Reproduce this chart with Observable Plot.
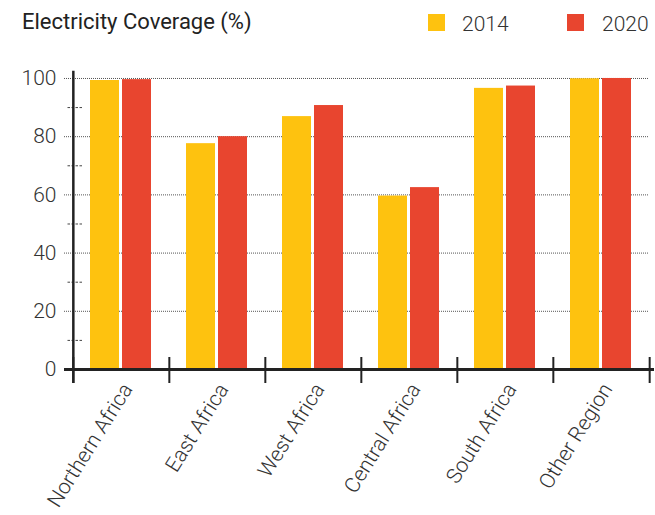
<!DOCTYPE html>
<html><head><meta charset="utf-8">
<script src="https://cdn.jsdelivr.net/npm/d3@7"></script>
<script src="https://cdn.jsdelivr.net/npm/@observablehq/plot@0.6"></script>
<style>
body{margin:0;background:#fff;font-family:Roboto,sans-serif;color:#333;}
#wrap{position:relative;width:655px;}
#head{position:relative;height:50px;}
#title{position:absolute;left:22px;top:12px;font-size:22px;line-height:20px;color:#222;white-space:nowrap;}
.lg{position:absolute;top:14px;width:17px;height:17px;}
.lt{position:absolute;top:14px;font-size:21px;line-height:20px;font-weight:300;color:#333;}
#chart svg{display:block;}
</style></head><body>
<div id="wrap"><div id="head">
<div id="title">Electricity Coverage (%)</div>
<div id="legend"></div>
</div><div id="chart"></div></div>
<script>
const regions = ["Northern Africa","East Africa","West Africa","Central Africa","South Africa","Other Region"];
const years = ["2014","2020"];
const values2014 = [99.3, 77.6, 86.9, 59.6, 96.6, 99.9];
const values2020 = [99.6, 80.0, 90.7, 62.5, 97.4, 100];
const colors = ["#FEC20F","#E8452F"];
const yTicks = [0,20,40,60,80,100];
const yMinor = [10,30,50,70,90];

const data = regions.flatMap((r,i)=>[
  {region:r, year:years[0], value:values2014[i]},
  {region:r, year:years[1], value:values2020[i]}
]);

// legend
const legendX = [[428,462],[567,602]];
const lg = document.getElementById("legend");
years.forEach((y,i)=>{
  const s=document.createElement("div");s.className="lg";s.style.left=legendX[i][0]+"px";s.style.background=colors[i];lg.appendChild(s);
  const t=document.createElement("div");t.className="lt";t.style.left=legendX[i][1]+"px";t.textContent=y;lg.appendChild(t);
});

const W=655,H=465,mL=72,mR=5,mT=20.7,mB=146;
const half=(W-mL-mR)/regions.length/2;
const plotH=H-mT-mB;

const chart = Plot.plot({
  width:W,height:H,marginLeft:mL,marginRight:mR,marginTop:mT,marginBottom:mB,
  style:{fontFamily:"Roboto, sans-serif",color:"#333",background:"#fff",overflow:"visible"},
  fx:{domain:regions,padding:0,label:null,axis:null},
  x:{domain:years,paddingInner:0.09,paddingOuter:0.5,axis:null,label:null},
  y:{domain:[0,102.5],axis:null,label:null},
  color:{domain:years,range:colors},
  marks:[
    Plot.gridY(yTicks.slice(1),{stroke:"#555",strokeOpacity:1,strokeDasharray:"1,1"}),
    Plot.barY(data,{fx:"region",x:"year",y:"value",fill:"year"}),
    Plot.axisY(yTicks,{tickSize:9,tickPadding:8,fontSize:21,fontWeight:300,stroke:"#555",strokeDasharray:"1,1",fill:"#333",label:null}),
    Plot.axisY(yMinor,{tickSize:16,dx:9,stroke:"#444",strokeDasharray:"2.5,1.5",fill:"none",label:null}),
    Plot.ruleY([0],{stroke:"#222",strokeWidth:3,insetLeft:-9,insetRight:-5}),
    Plot.axisFx({anchor:"bottom",tickSize:26,dy:-12,dx:-half,stroke:"#222",strokeWidth:2,fill:"none",label:null}),
    Plot.axisFx([regions[regions.length-1]],{anchor:"bottom",facetAnchor:"right",tickSize:26,dy:-12,dx:half,stroke:"#222",strokeWidth:2,fill:"none",label:null}),
    Plot.axisFx([regions[0]],{anchor:"bottom",facetAnchor:"left",tickSize:plotH+14,dy:-plotH,dx:-half,stroke:"#222",strokeWidth:2.5,fill:"none",label:null}),
    Plot.axisFx({anchor:"bottom",tickSize:0,tickPadding:16,tickRotate:-58,dx:6,fontSize:21,fontWeight:300,fill:"#333",label:null})
  ]
});
document.getElementById("chart").appendChild(chart);
</script>
</body></html>
